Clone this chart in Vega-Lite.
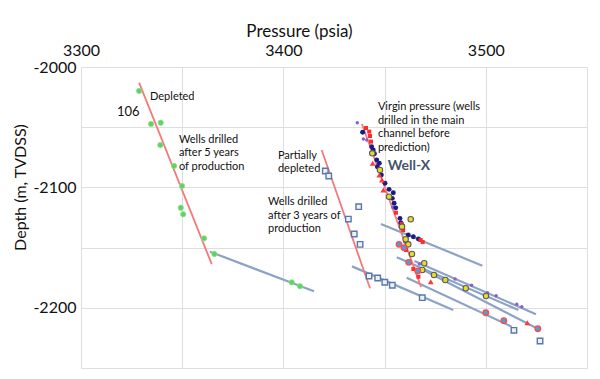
{
  "$schema": "https://vega.github.io/schema/vega-lite/v6.json",
  "width": 506,
  "height": 301,
  "autosize": {"type": "none"},
  "padding": {"left": 81, "top": 67, "right": 13, "bottom": 11},
  "config": {"view": {"stroke": null}, "font": "Lato"},
  "datasets": {
    "lines": [
      {"seg": "dep_red", "k": "red", "p": 3328.7, "d": -2013.0},
      {"seg": "dep_red", "k": "red", "p": 3364.6, "d": -2163.7},
      {"seg": "par_red", "k": "red", "p": 3418.9, "d": -2068.9},
      {"seg": "par_red", "k": "red", "p": 3442.8, "d": -2183.8},
      {"seg": "vir_red", "k": "red", "p": 3438.8, "d": -2047.3},
      {"seg": "vir_red", "k": "red", "p": 3468.0, "d": -2182.7},
      {"seg": "dep_tie", "k": "blue", "p": 3363.7, "d": -2153.4},
      {"seg": "dep_tie", "k": "blue", "p": 3415.1, "d": -2186.3},
      {"seg": "par_tie", "k": "blue", "p": 3433.9, "d": -2165.6},
      {"seg": "par_tie", "k": "blue", "p": 3483.9, "d": -2201.8},
      {"seg": "t_c", "k": "blue", "p": 3448.2, "d": -2130.4},
      {"seg": "t_c", "k": "blue", "p": 3498.3, "d": -2165.0},
      {"seg": "t_d", "k": "blue", "p": 3456.0, "d": -2158.1},
      {"seg": "t_d", "k": "blue", "p": 3516.1, "d": -2201.8},
      {"seg": "t_e", "k": "blue", "p": 3464.7, "d": -2161.1},
      {"seg": "t_e", "k": "blue", "p": 3524.8, "d": -2205.4},
      {"seg": "t_f", "k": "blue", "p": 3460.9, "d": -2175.0},
      {"seg": "t_f", "k": "blue", "p": 3512.8, "d": -2215.7},
      {"seg": "t_g", "k": "blue", "p": 3467.5, "d": -2167.2},
      {"seg": "t_g", "k": "blue", "p": 3525.2, "d": -2217.0}
    ],
    "pts": [
      {"g": "green", "p": 3328.7, "d": -2019.9},
      {"g": "green", "p": 3334.6, "d": -2047.3},
      {"g": "green", "p": 3339.4, "d": -2046.3},
      {"g": "green", "p": 3339.2, "d": -2064.8},
      {"g": "green", "p": 3346.0, "d": -2082.2},
      {"g": "green", "p": 3349.9, "d": -2098.8},
      {"g": "green", "p": 3349.3, "d": -2116.9},
      {"g": "green", "p": 3350.5, "d": -2122.3},
      {"g": "green", "p": 3360.8, "d": -2142.3},
      {"g": "green", "p": 3365.9, "d": -2155.3},
      {"g": "green", "p": 3404.1, "d": -2178.8},
      {"g": "green", "p": 3408.2, "d": -2182.1},
      {"g": "square", "p": 3420.7, "d": -2086.4},
      {"g": "square", "p": 3422.4, "d": -2090.5},
      {"g": "square", "p": 3437.2, "d": -2116.0},
      {"g": "square", "p": 3432.1, "d": -2126.3},
      {"g": "square", "p": 3435.0, "d": -2138.7},
      {"g": "square", "p": 3437.9, "d": -2147.3},
      {"g": "square", "p": 3442.3, "d": -2173.6},
      {"g": "square", "p": 3446.6, "d": -2175.3},
      {"g": "square", "p": 3450.1, "d": -2178.8},
      {"g": "square", "p": 3453.8, "d": -2181.3},
      {"g": "square", "p": 3468.6, "d": -2191.6},
      {"g": "square", "p": 3513.9, "d": -2218.7},
      {"g": "square", "p": 3526.8, "d": -2227.6},
      {"g": "purple", "p": 3436.5, "d": -2046.3},
      {"g": "purple", "p": 3438.7, "d": -2054.2},
      {"g": "purple", "p": 3439.5, "d": -2059.8},
      {"g": "purple", "p": 3441.2, "d": -2060.6},
      {"g": "purple", "p": 3454.0, "d": -2116.5},
      {"g": "purple", "p": 3459.9, "d": -2145.4},
      {"g": "purple", "p": 3467.2, "d": -2163.6},
      {"g": "purple", "p": 3484.8, "d": -2176.1},
      {"g": "purple", "p": 3493.0, "d": -2181.3},
      {"g": "purple", "p": 3500.9, "d": -2187.5},
      {"g": "purple", "p": 3505.1, "d": -2190.0},
      {"g": "purple", "p": 3515.3, "d": -2197.1},
      {"g": "purple", "p": 3517.8, "d": -2199.1},
      {"g": "redsq", "p": 3440.8, "d": -2050.7},
      {"g": "redsq", "p": 3442.4, "d": -2053.7},
      {"g": "redsq", "p": 3442.8, "d": -2057.3},
      {"g": "redsq", "p": 3443.3, "d": -2062.0},
      {"g": "redsq", "p": 3455.6, "d": -2121.0},
      {"g": "redsq", "p": 3458.5, "d": -2130.4},
      {"g": "redsq", "p": 3459.2, "d": -2135.4},
      {"g": "redsq", "p": 3460.6, "d": -2152.0},
      {"g": "redsq", "p": 3467.8, "d": -2143.7},
      {"g": "redsq", "p": 3468.8, "d": -2145.4},
      {"g": "redsq", "p": 3464.2, "d": -2167.8},
      {"g": "redsq", "p": 3466.7, "d": -2174.2},
      {"g": "redtri", "p": 3444.1, "d": -2080.0},
      {"g": "redtri", "p": 3447.4, "d": -2089.7},
      {"g": "redtri", "p": 3448.7, "d": -2093.9},
      {"g": "redtri", "p": 3449.4, "d": -2102.2},
      {"g": "redtri", "p": 3472.8, "d": -2178.3},
      {"g": "redtri", "p": 3520.5, "d": -2212.4},
      {"g": "navy", "p": 3439.2, "d": -2054.2},
      {"g": "navy", "p": 3443.6, "d": -2066.2},
      {"g": "navy", "p": 3444.4, "d": -2068.9},
      {"g": "navy", "p": 3445.0, "d": -2072.0},
      {"g": "navy", "p": 3446.1, "d": -2077.2},
      {"g": "navy", "p": 3447.4, "d": -2080.0},
      {"g": "navy", "p": 3446.4, "d": -2082.8},
      {"g": "navy", "p": 3448.4, "d": -2089.7},
      {"g": "navy", "p": 3450.2, "d": -2096.6},
      {"g": "navy", "p": 3452.2, "d": -2101.6},
      {"g": "navy", "p": 3454.3, "d": -2104.4},
      {"g": "navy", "p": 3453.8, "d": -2109.1},
      {"g": "navy", "p": 3454.7, "d": -2113.2},
      {"g": "navy", "p": 3455.5, "d": -2117.0},
      {"g": "navy", "p": 3457.6, "d": -2125.7},
      {"g": "navy", "p": 3458.0, "d": -2129.3},
      {"g": "navy", "p": 3461.7, "d": -2139.5},
      {"g": "navy", "p": 3464.2, "d": -2141.0},
      {"g": "navy", "p": 3466.7, "d": -2142.9},
      {"g": "yellow", "p": 3443.9, "d": -2071.7},
      {"g": "yellow", "p": 3447.7, "d": -2085.6},
      {"g": "yellow", "p": 3452.2, "d": -2107.7},
      {"g": "yellow", "p": 3462.9, "d": -2126.5},
      {"g": "yellow", "p": 3458.6, "d": -2132.6},
      {"g": "yellow", "p": 3460.4, "d": -2143.1},
      {"g": "yellow", "p": 3461.7, "d": -2147.3},
      {"g": "yellow", "p": 3463.5, "d": -2155.3},
      {"g": "yellow", "p": 3469.6, "d": -2163.0},
      {"g": "yellow", "p": 3468.6, "d": -2168.6},
      {"g": "yellow", "p": 3474.4, "d": -2172.8},
      {"g": "yellow", "p": 3480.0, "d": -2176.9},
      {"g": "yellow", "p": 3490.1, "d": -2183.8},
      {"g": "yellow", "p": 3500.1, "d": -2190.2},
      {"g": "cyan", "p": 3457.1, "d": -2147.3},
      {"g": "cyan", "p": 3459.6, "d": -2150.1},
      {"g": "cyan", "p": 3461.9, "d": -2162.2},
      {"g": "cyan", "p": 3466.4, "d": -2169.4},
      {"g": "cyan", "p": 3500.0, "d": -2204.1},
      {"g": "cyan", "p": 3508.9, "d": -2210.7},
      {"g": "cyan", "p": 3525.7, "d": -2217.4}
    ],
    "labels": [
      {"g": "note", "t": "Depleted", "p": 3334.1, "d": -2024.9},
      {"g": "num", "t": "106", "p": 3317.8, "d": -2037.4},
      {"g": "note", "t": "Wells drilled", "p": 3348.4, "d": -2060.6},
      {"g": "note", "t": "after 5 years", "p": 3348.4, "d": -2071.4},
      {"g": "note", "t": "of production", "p": 3348.4, "d": -2083.1},
      {"g": "note", "t": "Partially", "p": 3397.3, "d": -2073.9},
      {"g": "note", "t": "depleted", "p": 3397.3, "d": -2084.7},
      {"g": "note", "t": "Wells drilled", "p": 3392.4, "d": -2112.1},
      {"g": "note", "t": "after 3 years of", "p": 3392.4, "d": -2123.8},
      {"g": "note", "t": "production", "p": 3392.4, "d": -2134.6},
      {"g": "note", "t": "Virgin pressure (wells", "p": 3446.7, "d": -2033.2},
      {"g": "note", "t": "drilled in the main", "p": 3446.7, "d": -2044.9},
      {"g": "note", "t": "channel before", "p": 3446.7, "d": -2055.7},
      {"g": "note", "t": "prediction)", "p": 3446.7, "d": -2067.3},
      {"g": "well", "t": "Well-X", "p": 3451.5, "d": -2082.0}
    ]
  },
  "encoding": {
    "x": {
      "field": "p", "type": "quantitative",
      "scale": {"domain": [3300, 3550], "nice": false, "zero": false},
      "axis": {
        "orient": "top", "title": "Pressure (psia)",
        "values": [3300, 3350, 3400, 3450, 3500, 3550],
        "labelExpr": "datum.value % 100 == 0 ? '' + datum.value : ''",
        "labelFlush": false, "labelOverlap": false,
        "labelFontSize": 16, "labelColor": "#111", "labelPadding": 9,
        "titleFontSize": 17, "titleFontWeight": "normal", "titleColor": "#111",
        "titleX": 218, "titleY": -36, "titleBaseline": "middle", "titleAlign": "center",
        "domain": false, "ticks": false, "grid": true, "gridColor": "#dedede", "gridWidth": 1
      }
    },
    "y": {
      "field": "d", "type": "quantitative",
      "scale": {"domain": [-2250, -2000], "nice": false, "zero": false},
      "axis": {
        "title": "Depth (m, TVDSS)",
        "values": [-2250, -2200, -2150, -2100, -2050, -2000],
        "labelExpr": "datum.value % 100 == 0 ? '' + datum.value : ''",
        "labelOverlap": false,
        "labelFontSize": 16, "labelColor": "#111", "labelPadding": 5,
        "titleFontSize": 16, "titleFontWeight": "normal", "titleColor": "#111",
        "titleX": -61, "titleY": 120, "titleAngle": 270, "titleBaseline": "middle", "titleAlign": "center",
        "domain": false, "ticks": false, "grid": true, "gridColor": "#dedede", "gridWidth": 1
      }
    }
  },
  "layer": [
    {
      "data": {"name": "lines"},
      "transform": [{"filter": "datum.k == 'blue'"}],
      "mark": {"type": "line", "color": "#8ca3c6", "strokeWidth": 2.2},
      "encoding": {"detail": {"field": "seg"}}
    },
    {
      "data": {"name": "lines"},
      "transform": [{"filter": "datum.k == 'red'"}],
      "mark": {"type": "line", "color": "#f47a7a", "strokeWidth": 1.8},
      "encoding": {"detail": {"field": "seg"}}
    },
    {
      "data": {"name": "pts"},
      "transform": [{"filter": "datum.g == 'green'"}],
      "mark": {"type": "point", "shape": "circle", "filled": true, "fill": "#5fd35f", "stroke": "#8fe08f", "strokeWidth": 0.8, "size": 28, "opacity": 1}
    },
    {
      "data": {"name": "pts"},
      "transform": [{"filter": "datum.g == 'square'"}],
      "mark": {"type": "point", "shape": "square", "filled": true, "fill": "#eef2f8", "stroke": "#5878aa", "strokeWidth": 1.4, "size": 30, "opacity": 1}
    },
    {
      "data": {"name": "pts"},
      "transform": [{"filter": "datum.g == 'purple'"}],
      "mark": {"type": "point", "shape": "circle", "filled": true, "fill": "#8b5fd0", "size": 12, "opacity": 1}
    },
    {
      "data": {"name": "pts"},
      "transform": [{"filter": "datum.g == 'navy'"}],
      "mark": {"type": "point", "shape": "circle", "filled": true, "fill": "#1b1b85", "size": 24, "opacity": 1}
    },
    {
      "data": {"name": "pts"},
      "transform": [{"filter": "datum.g == 'redsq'"}],
      "mark": {"type": "point", "shape": "square", "filled": true, "fill": "#ff2a2a", "size": 16, "opacity": 1}
    },
    {
      "data": {"name": "pts"},
      "transform": [{"filter": "datum.g == 'redtri'"}],
      "mark": {"type": "point", "shape": "triangle-up", "filled": true, "fill": "#ff3838", "size": 34, "opacity": 1}
    },
    {
      "data": {"name": "pts"},
      "transform": [{"filter": "datum.g == 'yellow'"}],
      "mark": {"type": "point", "shape": "circle", "filled": true, "fill": "#e3dc2a", "stroke": "#5a5a5a", "strokeWidth": 1.1, "size": 30, "opacity": 1}
    },
    {
      "data": {"name": "pts"},
      "transform": [{"filter": "datum.g == 'cyan'"}],
      "mark": {"type": "point", "shape": "circle", "filled": true, "fill": "#4a9fe0", "stroke": "#ff4a4a", "strokeWidth": 1.3, "size": 30, "opacity": 1}
    },
    {
      "data": {"name": "labels"},
      "transform": [{"filter": "datum.g == 'note'"}],
      "mark": {"type": "text", "align": "left", "baseline": "middle", "fontSize": 11, "color": "#111"},
      "encoding": {"text": {"field": "t"}}
    },
    {
      "data": {"name": "labels"},
      "transform": [{"filter": "datum.g == 'num'"}],
      "mark": {"type": "text", "align": "left", "baseline": "middle", "fontSize": 13, "color": "#111"},
      "encoding": {"text": {"field": "t"}}
    },
    {
      "data": {"name": "labels"},
      "transform": [{"filter": "datum.g == 'well'"}],
      "mark": {"type": "text", "align": "left", "baseline": "middle", "fontSize": 14, "fontWeight": "bold", "color": "#44546a"},
      "encoding": {"text": {"field": "t"}}
    }
  ]
}
